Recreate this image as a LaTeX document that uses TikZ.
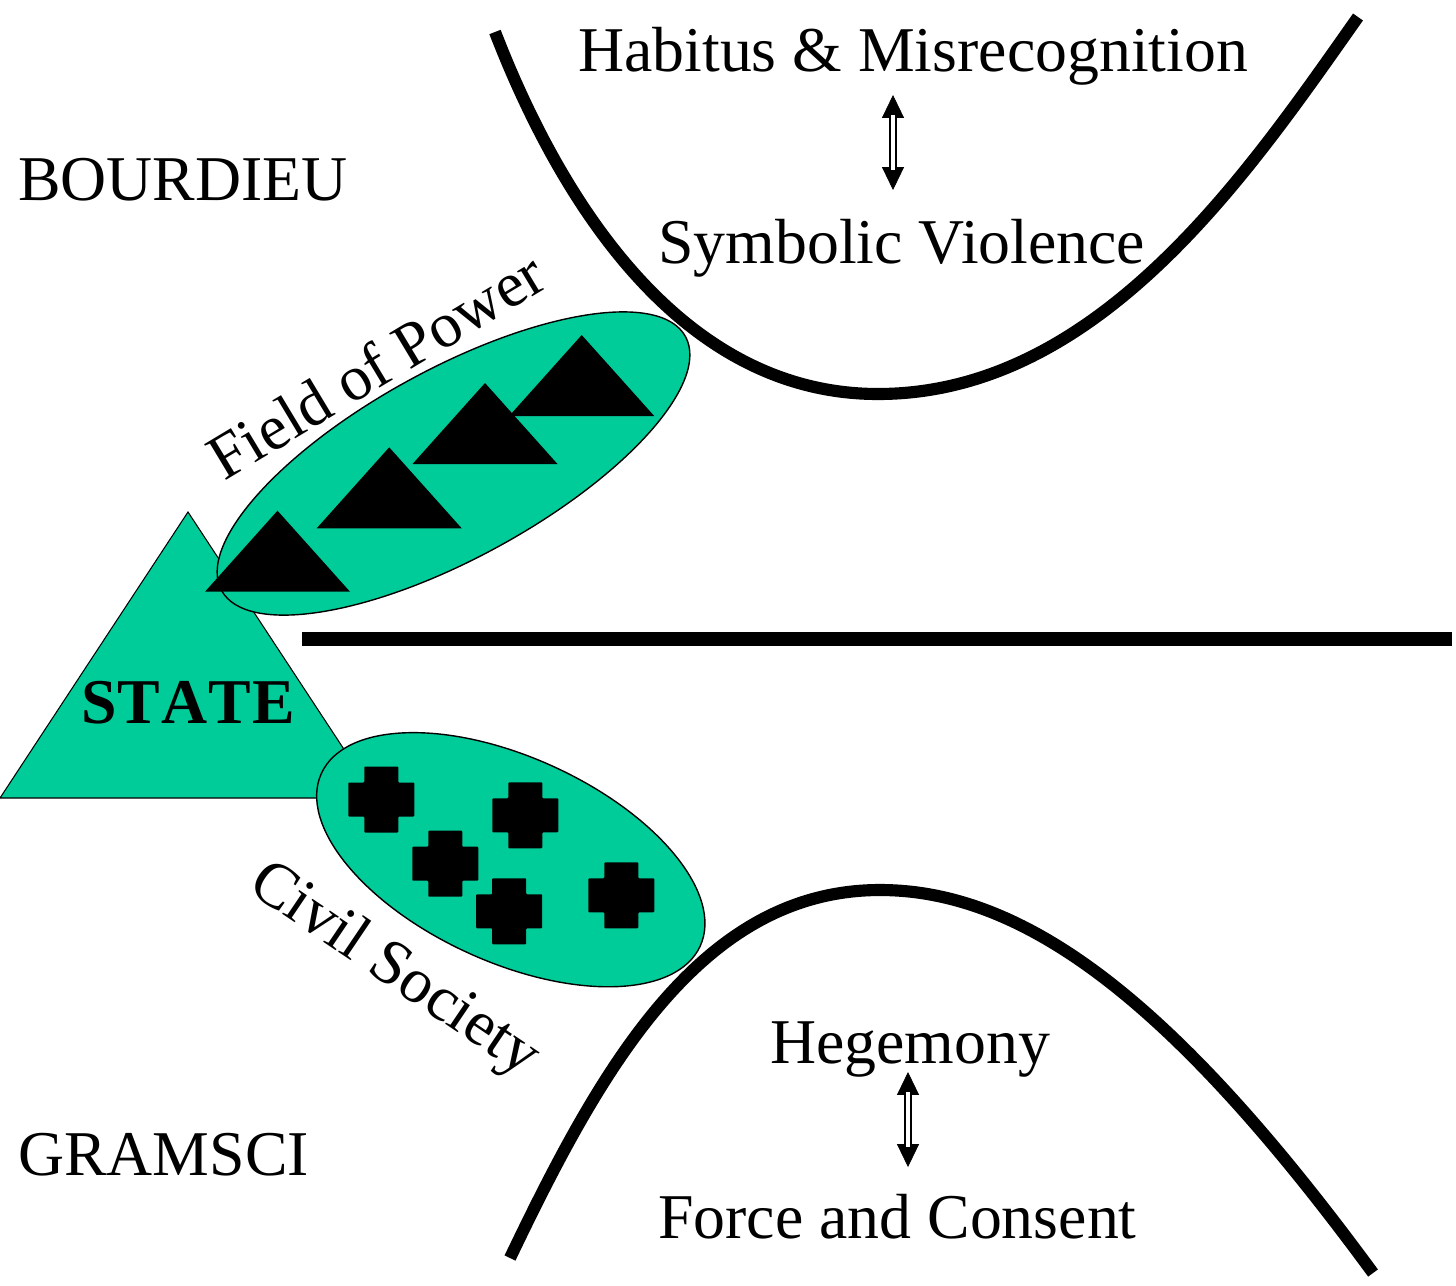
\documentclass[tikz,border=0pt]{standalone}
\usepackage{fontspec}
\setmainfont{Liberation Serif}
\usetikzlibrary{shapes.geometric,calc,arrows.meta}
\definecolor{fieldgreen}{RGB}{0,204,153}
\begin{document}
\begin{tikzpicture}[x=0.02cm,y=0.02cm,
  lbl/.style={inner sep=0pt, font=\fontsize{36.3pt}{40pt}\selectfont},
  blob/.style={ellipse, draw=black, line width=0.8pt, fill=fieldgreen, inner sep=0pt},
  statebox/.style={draw=black, line width=0.6pt, fill=fieldgreen},
  curveline/.style={line width=6.9pt},
  divider/.style={line width=7.8pt},
  tips/.style={line width=0.4pt, {Triangle[length=13pt,width=12.5pt]}-{Triangle[length=13pt,width=12.5pt]}},
  shaft/.style={line width=1.15pt, double=white, double distance=2.5pt},
  crossmark/.pic={\fill[black, rounded corners=0.5pt] (-17,-33) -- (17,-33) -- (17,-17) -- (33,-17) -- (33,17) -- (17,17) -- (17,33) -- (-17,33) -- (-17,17) -- (-33,17) -- (-33,-17) -- (-17,-17) -- cycle;},
  trimark/.pic={\fill[black] (0,81) -- (72.5,0) -- (-72.5,0) -- cycle;}
]
\useasboundingbox (0,0) rectangle (1456,-1285);

% curves
\coordinate (uL) at (495,-32);
\coordinate (uB) at (878,-394);
\coordinate (uR) at (1358,-17);
\draw[curveline] (uL) .. controls (560,-200) and (680,-394) .. (uB)
                      .. controls (1100,-394) and (1250,-170) .. (uR);
\coordinate (lL) at (510,-1258);
\coordinate (lT) at (880,-890);
\coordinate (lR) at (1373,-1273);
\draw[curveline] (lL) .. controls (600,-1070) and (700,-890) .. (lT)
                      .. controls (1030,-890) and (1180,-1010) .. (lR);

% divider
\coordinate (divL) at (302,-639);
\coordinate (divR) at (1452,-639);
\draw[divider] (divL) -- (divR);

% state triangle
\draw[statebox] (188,-512) coordinate (stateTop) -- (376,-798) coordinate (stateR) -- (0,-798) coordinate (stateL) -- cycle;
\node[lbl, font=\fontsize{36.3pt}{40pt}\selectfont\bfseries, anchor=base] (state) at (188,-723) {S\kern0.6ptT\kern0.6ptA\kern0.6ptT\kern0.6ptE};

% field of power
\node[blob, minimum width=10.58cm, minimum height=3.776cm, rotate=28.7] (fop) at (453.5,-463.5) {};
\pic at (581.7,-416) {trimark};
\pic at (485,-464) {trimark};
\pic at (389.2,-528.3) {trimark};
\pic at (277.5,-591.7) {trimark};
\node[lbl, rotate=31, anchor=base] (foplbl) at (387,-384) {Field of Power};

% civil society
\node[blob, minimum width=8.328cm, minimum height=4.1cm, rotate=-24.5] (cs) at (510.8,-859.7) {};
\pic at (381.3,-799.5) {crossmark};
\pic at (525.3,-815.3) {crossmark};
\pic at (445.3,-863.7) {crossmark};
\pic at (509.2,-911.3) {crossmark};
\pic at (621.3,-895.3) {crossmark};
\node[lbl, rotate=-34, anchor=base] (cslbl) at (385,-983.8) {Civil Society};

% labels
\node[lbl, anchor=base west] (bourdieu) at (18,-200) {BOURDIEU};
\node[lbl, anchor=base west] (gramsci) at (18,-1175) {GRAMSCI};
\node[lbl, anchor=base west] (habitus) at (578,-71) {Habitus \& Misrecognition};
\node[lbl, anchor=base west] (symb) at (658,-263) {Symbolic Violence};
\node[lbl, anchor=base west] (hegemony) at (770,-1063) {Hegemony};
\node[lbl, anchor=base west] (force) at (658,-1238) {Force and Consent};

% double arrows
\coordinate (a1t) at (893,-95);
\coordinate (a1b) at (893,-190);
\draw[tips] (a1t) -- (a1b);
\draw[shaft] ($(a1t)+(0,-20)$) -- ($(a1b)+(0,20)$);
\coordinate (a2t) at (908,-1072);
\coordinate (a2b) at (908,-1167);
\draw[tips] (a2t) -- (a2b);
\draw[shaft] ($(a2t)+(0,-20)$) -- ($(a2b)+(0,20)$);
\end{tikzpicture}
\end{document}
